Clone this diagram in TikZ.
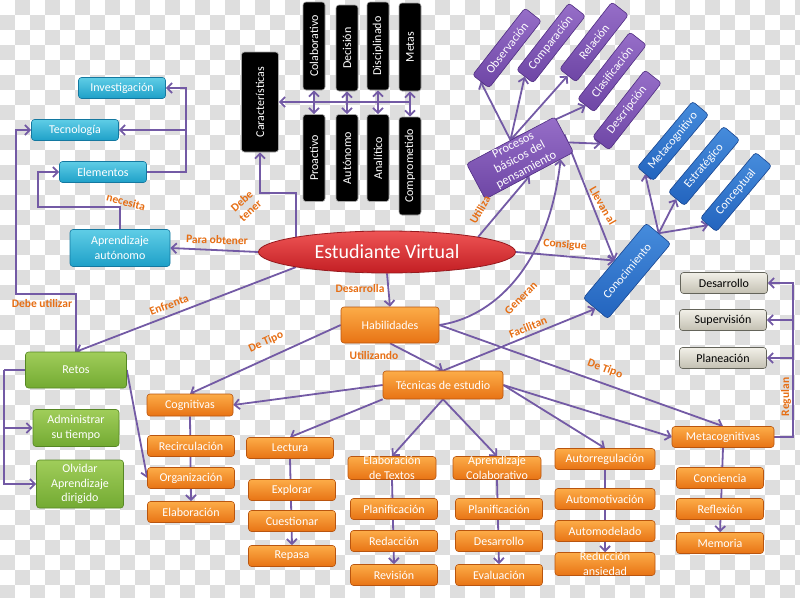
\documentclass[tikz,border=0pt]{standalone}
\usepackage{fontspec}
\setmainfont{Carlito}
\usepackage{tikz}
\usetikzlibrary{arrows.meta,calc,shapes.geometric}

\definecolor{cyanT}{RGB}{95,205,230}
\definecolor{cyanB}{RGB}{30,160,200}
\definecolor{cyanD}{RGB}{20,120,160}
\definecolor{orT}{RGB}{252,172,72}
\definecolor{orB}{RGB}{232,115,20}
\definecolor{orD}{RGB}{185,85,15}
\definecolor{grT}{RGB}{160,205,90}
\definecolor{grB}{RGB}{115,170,50}
\definecolor{grD}{RGB}{85,135,35}
\definecolor{puT}{RGB}{150,110,200}
\definecolor{puB}{RGB}{110,70,165}
\definecolor{puD}{RGB}{80,45,130}
\definecolor{blT}{RGB}{70,140,220}
\definecolor{blB}{RGB}{35,100,190}
\definecolor{blD}{RGB}{25,70,145}
\definecolor{gyT}{RGB}{242,240,232}
\definecolor{gyB}{RGB}{195,192,178}
\definecolor{gyD}{RGB}{100,100,90}
\definecolor{rdT}{RGB}{238,85,85}
\definecolor{rdB}{RGB}{195,30,35}
\definecolor{rdD}{RGB}{150,25,30}
\definecolor{edgecol}{RGB}{115,90,165}
\definecolor{lblcol}{RGB}{230,110,20}
\definecolor{checker}{RGB}{222,222,222}

\pgfdeclarelayer{board}
\pgfdeclarelayer{edges}
\pgfsetlayers{board,edges,main}

\begin{document}
\begin{tikzpicture}[x=1pt,y=-1pt,>={Straight Barb[length=5pt,width=10pt]},
    box/.style={rectangle,rounded corners=3pt,minimum width=87,minimum height=21,
      inner sep=0pt,align=center,text=white,line width=0.6pt,
      font=\fontsize{12}{14.5}\selectfont},
    cyanbox/.style={box,top color=cyanT,bottom color=cyanB,draw=cyanD},
    orbox/.style={box,top color=orT,bottom color=orB,draw=orD},
    greenbox/.style={box,top color=grT,bottom color=grB,draw=grD},
    purpbox/.style={box,top color=puT,bottom color=puB,draw=puD,minimum width=85,rotate=52},
    bluebox/.style={box,top color=blT,bottom color=blB,draw=blD,minimum width=86,rotate=50},
    graybox/.style={box,top color=gyT,bottom color=gyB,draw=gyD,text=black},
    blackbox/.style={box,fill=black,draw=gray!70,minimum height=22,rotate=90},
    edge/.style={draw=edgecol,line width=1.8pt},
    lbl/.style={text=lblcol,font=\bfseries\fontsize{11.5}{12.5}\selectfont,inner sep=0pt,align=center}]

    \useasboundingbox (0,0) rectangle (800,597);
    \begin{pgfonlayer}{board}
      \fill[white] (0,0) rectangle (800,597);
      \foreach \j in {0,...,39}
        \foreach \i in {0,...,26}
          \fill[checker] ({30*\i+15*mod(\j+1,2)},{15*\j}) rectangle ++(15,15);
    \end{pgfonlayer}

    % left side
    \node[cyanbox] (invest) at (122,88) {Investigación};
    \node[cyanbox] (tecno) at (75,130) {Tecnología};
    \node[cyanbox] (elem) at (103,172) {Elementos};
    \node[cyanbox,minimum width=100,minimum height=37] (aprend) at (120,248) {Aprendizaje\\autónomo};

    \node[greenbox,minimum width=101,minimum height=36] (retos) at (76,370) {Retos};
    \node[greenbox,minimum width=86,minimum height=37] (admin) at (76,428) {Administrar\\su tiempo};
    \node[greenbox,minimum width=87,minimum height=48] (olvid) at (80,484) {Olvidar\\Aprendizaje\\dirigido};

    % caracteristicas
    \node[blackbox,minimum width=100,minimum height=37] (caract) at (260,102) {Características};
    \node[blackbox,minimum width=88] (colab) at (314,46) {Colaborativo};
    \node[blackbox,minimum width=86] (decis) at (347,48) {Decisión};
    \node[blackbox,minimum width=88] (discip) at (378,46) {Disciplinado};
    \node[blackbox,minimum width=88] (metas) at (410,47) {Metas};
    \node[blackbox,minimum width=87] (proac) at (314,158) {Proactivo};
    \node[blackbox,minimum width=87] (auton) at (347,158) {Autónomo};
    \node[blackbox,minimum width=87] (analit) at (378,158) {Analítico};
    \node[blackbox,minimum width=98] (compro) at (410,166) {Comprometido};

    \node[ellipse,minimum width=257,minimum height=42,inner sep=0pt,top color=rdT,bottom color=rdB,
      draw=rdD,line width=0.8pt,text=white,font=\fontsize{20}{22}\selectfont] (estud) at (387,252) {Estudiante Virtual};

    % procesos y conocimiento
    \node[purpbox,rotate=-24,minimum width=100,minimum height=40,font=\fontsize{12.5}{14}\selectfont] (proc) at (520,158) {Procesos\\básicos del\\pensamiento};
    \node[purpbox] (obs) at (507,48) {Observación};
    \node[purpbox] (comp) at (551,43) {Comparación};
    \node[purpbox] (rel) at (594,42) {Relación};
    \node[purpbox] (clas) at (612,72) {Clasificación};
    \node[purpbox] (desc) at (627,110) {Descripción};

    \node[bluebox,minimum width=98,minimum height=32] (conoc) at (627,271) {Conocimiento};
    \node[bluebox] (metacog) at (673,141) {Metacognitivo};
    \node[bluebox] (estrat) at (704,166) {Estratégico};
    \node[bluebox] (concep) at (736,192) {Conceptual};

    \node[graybox] (gdesar) at (724,283) {Desarrollo};
    \node[graybox] (gsuper) at (723,320) {Supervisión};
    \node[graybox] (gplan) at (723,358) {Planeación};

    % habilidades y tecnicas
    \node[orbox,minimum width=98,minimum height=36] (habil) at (390,325) {Habilidades};
    \node[orbox,minimum width=120,minimum height=28] (tecnic) at (443,385) {Técnicas de estudio};

    \node[orbox,minimum width=86,minimum height=22] (cogn) at (190,405) {Cognitivas};
    \node[orbox] (recirc) at (191,446) {Recirculación};
    \node[orbox] (organ) at (191,478) {Organización};
    \node[orbox] (elabo) at (191,512) {Elaboración};

    \node[orbox] (lect) at (290,448) {Lectura};
    \node[orbox] (explo) at (292,490) {Explorar};
    \node[orbox] (cuest) at (292,521) {Cuestionar};
    \node[orbox] (repas) at (292,556) {Repasa};

    \node[orbox,minimum width=88,minimum height=22] (elabtx) at (392,468) {Elaboración\\de Textos};
    \node[orbox] (planA) at (394,509) {Planificación};
    \node[orbox] (redac) at (394,541) {Redacción};
    \node[orbox] (revis) at (394,575) {Revisión};

    \node[orbox,minimum width=88,minimum height=22] (aprcol) at (497,468) {Aprendizaje\\Colaborativo};
    \node[orbox] (planB) at (499,509) {Planificación};
    \node[orbox] (desar) at (499,541) {Desarrollo};
    \node[orbox] (evalu) at (499,575) {Evaluación};

    \node[orbox,minimum width=100] (autorr) at (605,459) {Autorregulación};
    \node[orbox,minimum width=100] (automot) at (605,499) {Automotivación};
    \node[orbox,minimum width=100] (automod) at (605,531) {Automodelado};
    \node[orbox,minimum width=100] (reduc) at (605,564) {Reducción\\ansiedad};

    \node[orbox,minimum width=102] (metac) at (723,437) {Metacognitivas};
    \node[orbox] (conc) at (720,478) {Conciencia};
    \node[orbox] (refl) at (720,509) {Reflexión};
    \node[orbox] (memo) at (720,543) {Memoria};

    \begin{pgfonlayer}{edges}
      \draw[edge,->] (elem.east) -- ++(39,0) coordinate (ebend) |- (invest.east);
      \draw[edge,->] (ebend |- tecno.east) -- (tecno.east);
      \draw[edge,->] (aprend.north) -- ++(0,-22) -| ($(elem.west)+(-21,0)$) -- (elem.west);
      \draw[edge,->] (retos.north) -- ++(0,-58) -| ($(tecno.west)+(-15,0)$) -- (tecno.west);
      \draw[edge] (retos.west) -- ++(-21,0) coordinate (rbend);
      \draw[edge,->] (rbend) |- (olvid.west);
      \draw[edge,->] (rbend |- admin.west) -- (admin.west);
      \draw[edge,->] (retos.east) -- (organ.west);

      \draw[edge,->] (estud.north west) -- ++(0,-44) -| (caract.west);
      \draw[edge,->] (metas.west |- caract.south) -- (caract.south);
      \foreach \a/\b in {colab/proac,decis/auton,discip/analit,metas/compro}
        \draw[edge,<->] (\a.west) -- (\b.east);

      \draw[edge,->] (estud.west) -- (aprend.east);
      \draw[edge,->] (estud.south west) -- (retos.north);
      \draw[edge,->] (estud.south) -- (habil.north);
      \draw[edge,->] (estud.north east) -- (proc.south);
      \draw[edge,->] (estud.east) -- (conoc.north);
      \draw[edge,->] (proc.east) -- (conoc.north);
      \draw[edge,->] (habil.east) .. controls (490,318) and (548,270) .. ($(proc.south)!0.7!(proc.south east)$);
      \foreach \b in {obs,comp,rel,clas,desc}
        \draw[edge,->] (proc.north) -- (\b.west);
      \foreach \b in {metacog,estrat,concep}
        \draw[edge,->] (conoc.east) -- (\b.west);

      \draw[edge,->] (habil.west) -- (cogn.north);
      \draw[edge,->] (habil.south) -- (tecnic.north);
      \draw[edge,->] (habil.east) -- (metac.north);
      \draw[edge,->] (tecnic.north) -- (conoc.west);
      \draw[edge,->] (tecnic.west) -- (cogn.east);
      \draw[edge,->] (tecnic.south west) -- (lect.north);
      \draw[edge,->] (tecnic.south) -- (elabtx.north);
      \draw[edge,->] (tecnic.south) -- (aprcol.north);
      \draw[edge,->] (tecnic.east) -- (autorr.north);
      \draw[edge,->] (tecnic.east) -- (metac.west);

      \draw[edge,->] (cogn.south) -- (elabo.north);
      \draw[edge,->] (lect.south) -- (repas.north);
      \draw[edge,->] (elabtx.south) -- (revis.north);
      \draw[edge,->] (aprcol.south) -- (evalu.north);
      \draw[edge,->] (autorr.south) -- (reduc.north);
      \draw[edge,->] (metac.south) -- (memo.north);

      \draw[edge,->] (metac.east) -- ++(19,0) coordinate (mbend) |- (gdesar.east);
      \draw[edge,->] (mbend |- gsuper.east) -- (gsuper.east);
      \draw[edge,->] (mbend |- gplan.east) -- (gplan.east);
    \end{pgfonlayer}

    % etiquetas
    \node[lbl,rotate=-15] (lNecesita) at (126,202) {necesita};
    \node[lbl] (lUtilizar) at (42,303) {Debe utilizar};
    \node[lbl,rotate=21] (lEnfrenta) at (169,305) {Enfrenta};
    \node[lbl,rotate=-2] (lObtener) at (217,240) {Para obtener};
    \node[lbl,rotate=42] (lTener) at (246,206) {Debe\\tener};
    \node[lbl] (lDesarrolla) at (360,289) {Desarrolla};
    \node[lbl,rotate=24] (lTipoA) at (266,342) {De Tipo};
    \node[lbl] (lUtilizando) at (374,355) {Utilizando};
    \node[lbl,rotate=60] (lUtiliza) at (480,210) {Utiliza};
    \node[lbl,rotate=-60] (lLlevan) at (603,206) {Llevan al};
    \node[lbl,rotate=-5] (lConsigue) at (565,245) {Consigue};
    \node[lbl,rotate=45] (lGeneran) at (521,298) {Generan};
    \node[lbl,rotate=22] (lFacilitan) at (528,327) {Facilitan};
    \node[lbl,rotate=-20] (lTipoB) at (605,369) {De Tipo};
    \node[lbl,rotate=90] (lRegulan) at (786,397) {Regulan};
\end{tikzpicture}
\end{document}
